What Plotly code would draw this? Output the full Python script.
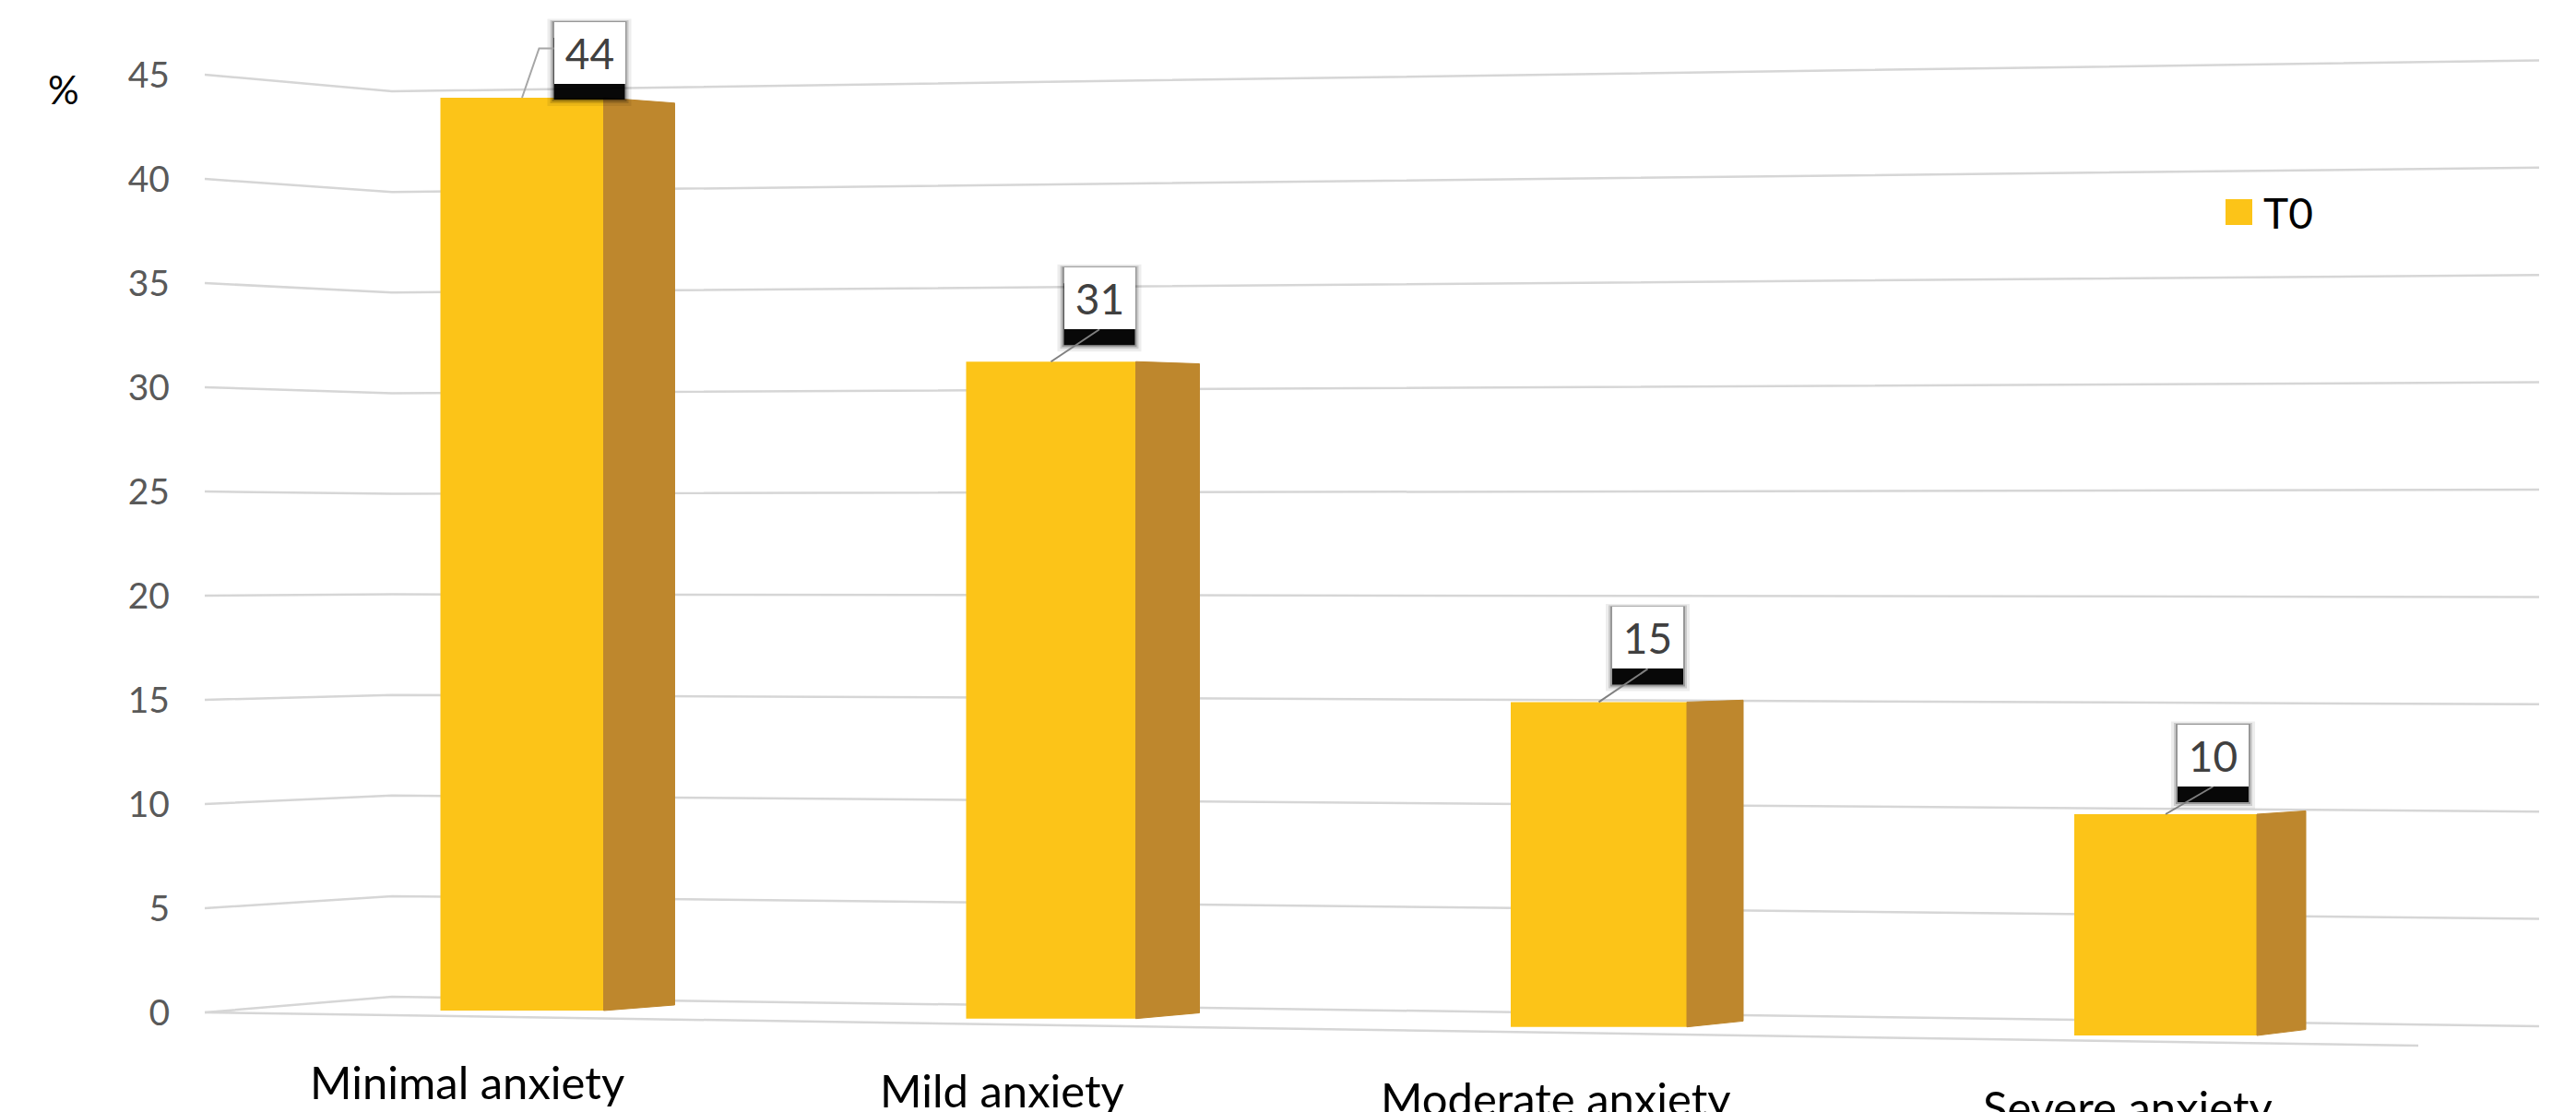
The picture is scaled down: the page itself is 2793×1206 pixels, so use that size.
import plotly.graph_objects as go

# ---------------------------------------------------------------- data
CATEGORIES = ["Minimal anxiety", "Mild anxiety", "Moderate anxiety", "Severe anxiety"]
T0_VALUES = [44, 31, 15, 10]
SERIES_NAME = "T0"
Y_TICKS = [0, 5, 10, 15, 20, 25, 30, 35, 40, 45]
Y_UNIT = "%"

# ---------------------------------------------------------------- style
W, H = 2793, 1206
MARGIN_L = 200
FONT = "Lato"
FRONT = "#FCC418"
SIDE = "#BE872D"
GRID = "#D6D6D6"
TICK_COLOR = "#595959"
LABEL_COLOR = "#404040"

# ---------------------------------------------------------------- 3-D box geometry (page pixels)
AXIS_ZERO_PX = 1098.0          # value 0 on the front-left axis
AXIS_PX_PER_UNIT = 22.6
X_FRONT_LEFT, X_CORNER, X_BACK_RIGHT = 222, 425, 2753
X_FLOOR_RIGHT = 2622
EYE_LEVEL = 22.5               # value at which the perspective is flat
BACK_SHRINK = 0.988            # back edge of a bar relative to its front edge


def axis_px(v):
    return AXIS_ZERO_PX - AXIS_PX_PER_UNIT * v


def corner_px(v):
    return 1081.0 - 21.82 * v


def back_right_px(v):
    return 1113.0 - 23.28 * v


def floor_front_px(x):
    return AXIS_ZERO_PX + (x - X_FRONT_LEFT) * (1134.0 - AXIS_ZERO_PX) / (X_FLOOR_RIGHT - X_FRONT_LEFT)


def to_axis_value(py):
    return (AXIS_ZERO_PX - py) / AXIS_PX_PER_UNIT


# bar slots get wider apart / nearer towards the right
def slot_center(i):
    return 566 + 573.5 * i + 10.25 * i * (i - 1)


def slot_width(i):
    return 177 + 7 * i


def slot_depth(i):
    return 77 - 8 * i


def slot_base_px(x):
    return 1096.0 + 0.01516 * (x - 566)


def slot_scale(x):
    return 22.5 + 0.000842 * (x - 566)


def back_value(v):
    return EYE_LEVEL + (v - EYE_LEVEL) * BACK_SHRINK


# data-label boxes: offset (right, up) of the box centre from the bar top
LABEL_OFFSETS = [(73, 48.5), (52.5, 68.5), (53, 69.5), (51.5, 63.5)]
BOX_W, BOX_H, SHADOW_DROP = 77, 67, 17

fig = go.Figure()

# ---------------------------------------------------------------- wall / floor grid
gx, gy = [], []
for v in Y_TICKS:
    gx += [X_FRONT_LEFT, X_CORNER, X_BACK_RIGHT, None]
    gy += [v, to_axis_value(corner_px(v)), to_axis_value(back_right_px(v)), None]
gx += [X_FRONT_LEFT, X_FLOOR_RIGHT]
gy += [0, to_axis_value(floor_front_px(X_FLOOR_RIGHT))]
fig.add_trace(go.Scatter(x=gx, y=gy, mode="lines", line=dict(color=GRID, width=2.5),
                         hoverinfo="skip", showlegend=False))

# ---------------------------------------------------------------- bars (one depth axis each)
layout_axes = {}
shapes = []
annotations = []
for i, (cat, val) in enumerate(zip(CATEGORIES, T0_VALUES)):
    cx = slot_center(i)
    w = slot_width(i)
    d = slot_depth(i)
    base = slot_base_px(cx)
    scale = slot_scale(cx)
    ax_name = f"y{i + 2}"
    layout_axes[f"yaxis{i + 2}"] = dict(overlaying="y", anchor="x", visible=False,
                                        range=[(base - H) / scale, base / scale],
                                        fixedrange=True)
    xr = cx + w / 2
    fig.add_trace(go.Scatter(
        x=[xr, xr, xr + d, xr + d, xr],
        y=[0, val, back_value(val), back_value(0), 0],
        yaxis=ax_name, mode="lines", fill="toself", fillcolor=SIDE,
        line=dict(color=SIDE, width=1), hoverinfo="skip", showlegend=False))
    fig.add_trace(go.Bar(x=[cx], y=[val], width=[w], yaxis=ax_name, name=SERIES_NAME,
                         marker=dict(color=FRONT, line=dict(width=0)),
                         showlegend=False, hovertemplate=cat + ": %{y}<extra></extra>"))

    # data label: soft shadow, leader line, white box
    ox, oy = LABEL_OFFSETS[i]
    box_top = oy + BOX_H / 2
    for grow, alpha in ((7, 0.07), (4, 0.14), (2, 0.25)):
        shapes.append(dict(type="rect", xref="x", yref=ax_name,
                           xsizemode="pixel", ysizemode="pixel", xanchor=cx, yanchor=val,
                           x0=ox - BOX_W / 2 - grow, x1=ox + BOX_W / 2 + grow,
                           y0=oy - BOX_H / 2 - SHADOW_DROP - grow, y1=box_top + grow / 2,
                           fillcolor="black", opacity=alpha, line=dict(width=0)))
    shapes.append(dict(type="rect", xref="x", yref=ax_name,
                       xsizemode="pixel", ysizemode="pixel", xanchor=cx, yanchor=val,
                       x0=ox - BOX_W / 2, x1=ox + BOX_W / 2,
                       y0=oy - BOX_H / 2 - SHADOW_DROP, y1=box_top - SHADOW_DROP,
                       fillcolor="black", opacity=0.95, line=dict(width=0)))
    if oy - BOX_H / 2 < 30:
        lx, ly = ox - BOX_W / 2, oy + 5
        path = f"M0,0 L{lx - 16},{ly} L{lx},{ly}"
        lead_col = "#A6A6A6"
    else:
        path = f"M0,0 L{ox},{oy - BOX_H / 2}"
        lead_col = "#808080"
    shapes.append(dict(type="path", xref="x", yref=ax_name, xsizemode="pixel",
                       ysizemode="pixel", xanchor=cx, yanchor=val, path=path,
                       line=dict(color=lead_col, width=2)))
    annotations.append(dict(x=cx, y=val, xref="x", yref=ax_name, xshift=ox, yshift=oy,
                            text=str(val), showarrow=False, xanchor="center",
                            yanchor="middle", width=BOX_W, height=BOX_H,
                            bgcolor="white", borderwidth=0, borderpad=0,
                            font=dict(family=FONT, size=46, color=LABEL_COLOR)))

    # category label on the front edge of the floor
    lx_c = cx - 0.77 * d
    cap_top = floor_front_px(lx_c) + 55
    annotations.append(dict(x=lx_c, y=1 - (cap_top - 14) / H, xref="x", yref="paper",
                            text=cat, showarrow=False, xanchor="center", yanchor="top",
                            borderpad=0, font=dict(family=FONT, size=49, color="black")))

# ---------------------------------------------------------------- legend
shapes.append(dict(type="rect", xref="x", yref="paper", x0=2413, x1=2442,
                   y0=1 - 244 / H, y1=1 - 216 / H, fillcolor=FRONT, line=dict(width=0)))
annotations.append(dict(x=2452, y=1 - 230 / H, xref="x", yref="paper", text=SERIES_NAME,
                        showarrow=False, xanchor="left", yanchor="middle",
                        font=dict(family=FONT, size=46, color="black")))

# axis unit
annotations.append(dict(x=(69 - MARGIN_L) / (W - MARGIN_L), y=1 - 97 / H, xref="paper",
                        yref="paper", text=Y_UNIT, showarrow=False, xanchor="center",
                        yanchor="middle", font=dict(family=FONT, size=42, color="black")))

fig.update_layout(
    width=W, height=H, autosize=False,
    margin=dict(l=MARGIN_L, r=0, t=0, b=0),
    paper_bgcolor="white", plot_bgcolor="white",
    showlegend=False,
    xaxis=dict(range=[MARGIN_L, W], visible=False, fixedrange=True),
    yaxis=dict(range=[(AXIS_ZERO_PX - H) / AXIS_PX_PER_UNIT, AXIS_ZERO_PX / AXIS_PX_PER_UNIT],
               tickvals=Y_TICKS, ticktext=[str(t) for t in Y_TICKS],
               showgrid=False, zeroline=False, showline=False, ticks="",
               ticklabelstandoff=15,
               tickfont=dict(family=FONT, size=39, color=TICK_COLOR), fixedrange=True),
    shapes=shapes,
    annotations=annotations,
    **layout_axes,
)

fig.write_html("out.html")
